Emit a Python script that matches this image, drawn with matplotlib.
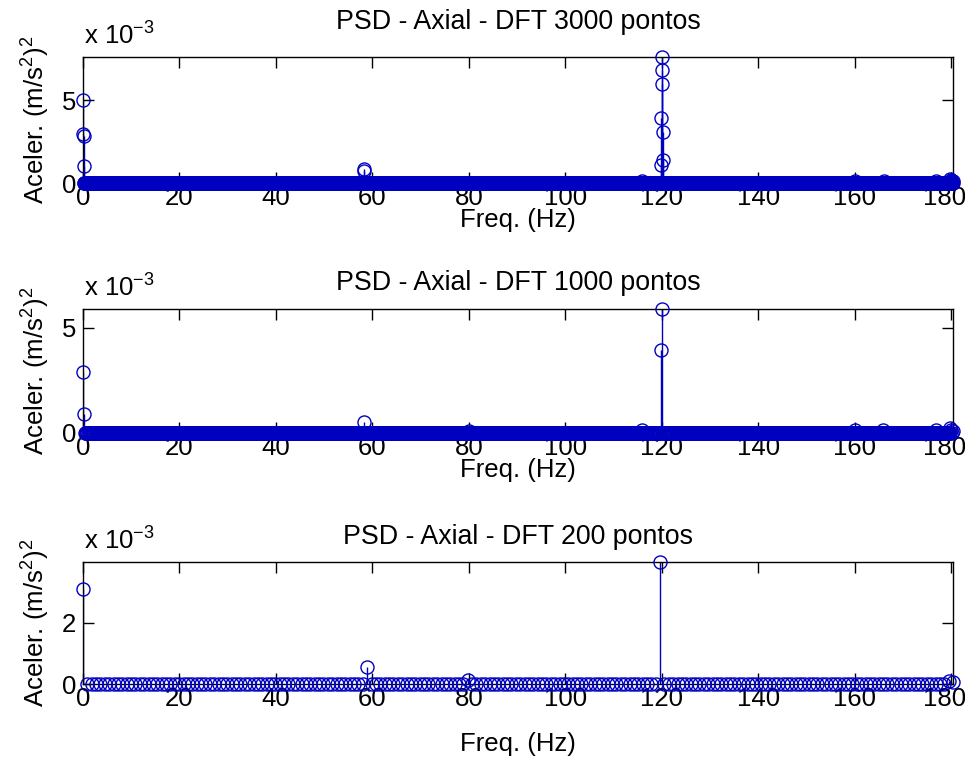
import numpy as np
import matplotlib.pyplot as plt
import matplotlib.transforms as mtransforms

plt.rcParams['font.family'] = ['Liberation Sans', 'DejaVu Sans']
plt.rcParams['mathtext.fontset'] = 'custom'
plt.rcParams['mathtext.rm'] = 'Liberation Sans'
plt.rcParams['mathtext.it'] = 'Liberation Sans:italic'

# DFT sizes and the top frequency of each spectrum (Hz)
n_pontos = [3000, 1000, 200]
f_max = 180.4

# PSD peaks, amplitude in 1e-3 (m/s^2)^2; every other bin is ~0
pico_freq_3000 = [0.0, 0.06, 0.12, 0.18, 58.3, 58.36, 116.0, 119.88, 119.94, 120.0, 120.06, 120.12, 120.18, 120.24,
                  160.0, 166.0, 177.0, 179.8, 179.9, 180.0, 180.4]
pico_amp_3000 = [5.0, 2.95, 2.85, 1.0, 0.85, 0.7, 0.15, 1.1, 3.9, 7.6, 6.8, 6.0, 3.1, 1.4,
                 0.15, 0.15, 0.15, 0.25, 0.2, 0.15, 0.1]

pico_freq_1000 = [0.0, 0.18, 58.4, 80.0, 116.0, 119.9, 120.08, 160.0, 166.0, 177.0, 179.7, 180.0, 180.4]
pico_amp_1000 = [2.9, 0.9, 0.5, 0.1, 0.15, 3.95, 5.9, 0.15, 0.15, 0.15, 0.25, 0.15, 0.1]

pico_freq_200 = [0.0, 58.5, 80.0, 120.0, 179.5, 180.4]
pico_amp_200 = [3.1, 0.56, 0.12, 3.97, 0.1, 0.05]

picos = [(pico_freq_3000, pico_amp_3000),
         (pico_freq_1000, pico_amp_1000),
         (pico_freq_200, pico_amp_200)]
y_max = [7.6, 5.9, 3.97]
y_ticks = [[0, 5], [0, 5], [0, 2]]

# axes rectangles [left, bottom, width, height] in figure fraction
posicoes = [[0.086, 0.7592, 0.9016, 0.1658],
            [0.086, 0.4303, 0.9016, 0.1632],
            [0.086, 0.1000, 0.9016, 0.1605]]
title_pad = [20, 13.5, 13]
xlabel_pad = [-1, -1, 15]

azul = '#0000c0'
fs = 18.5

fig = plt.figure(figsize=(9.65, 7.6), dpi=100)

for n, (pf, pa), ymax, yt, pos, tp, xp in zip(n_pontos, picos, y_max, y_ticks, posicoes,
                                              title_pad, xlabel_pad):
    ax = fig.add_axes(pos)
    freq = np.linspace(0, f_max, n)
    psd = np.zeros(n)
    for f, a in zip(pf, pa):
        psd[np.argmin(np.abs(freq - f))] = a

    markerline, stemlines, baseline = ax.stem(freq, psd, linefmt='-', markerfmt='o', basefmt=' ')
    stemlines.set_color(azul)
    stemlines.set_linewidth(1.0)
    markerline.set_color(azul)
    markerline.set_markerfacecolor('none')
    markerline.set_markersize(9.4)
    markerline.set_markeredgewidth(1.0)
    markerline.set_clip_on(False)
    markerline.set_zorder(3)

    ax.set_xlim(0, f_max)
    ax.set_ylim(0, ymax)
    ax.set_xticks(np.arange(0, 181, 20))
    ax.set_yticks(yt)
    ax.tick_params(direction='in', top=True, right=True, length=8, width=1,
                   labelsize=fs, pad=2)
    ax.tick_params(axis='y', pad=5)
    for s in ax.spines.values():
        s.set_linewidth(1.0)

    # the 180 label sits right at the figure edge; nudge it inward
    fig.canvas.draw()
    ultimo = ax.get_xticklabels()[-1]
    ultimo.set_transform(ultimo.get_transform() +
                         mtransforms.ScaledTranslation(-7 / 100, 0, fig.dpi_scale_trans))

    ax.set_title('PSD - Axial - DFT %d pontos' % n, fontsize=19.3, pad=tp)
    ax.set_xlabel('Freq. (Hz)', fontsize=fs, labelpad=xp)
    ax.set_ylabel('Aceler. (m/s$^2$)$^2$', fontsize=fs, labelpad=7)
    ax.annotate('x 10$^{-3}$', xy=(0, 1), xycoords='axes fraction', xytext=(1, 5),
                textcoords='offset points', fontsize=fs, ha='left', va='bottom')

fig.savefig('out.png', dpi=100)
